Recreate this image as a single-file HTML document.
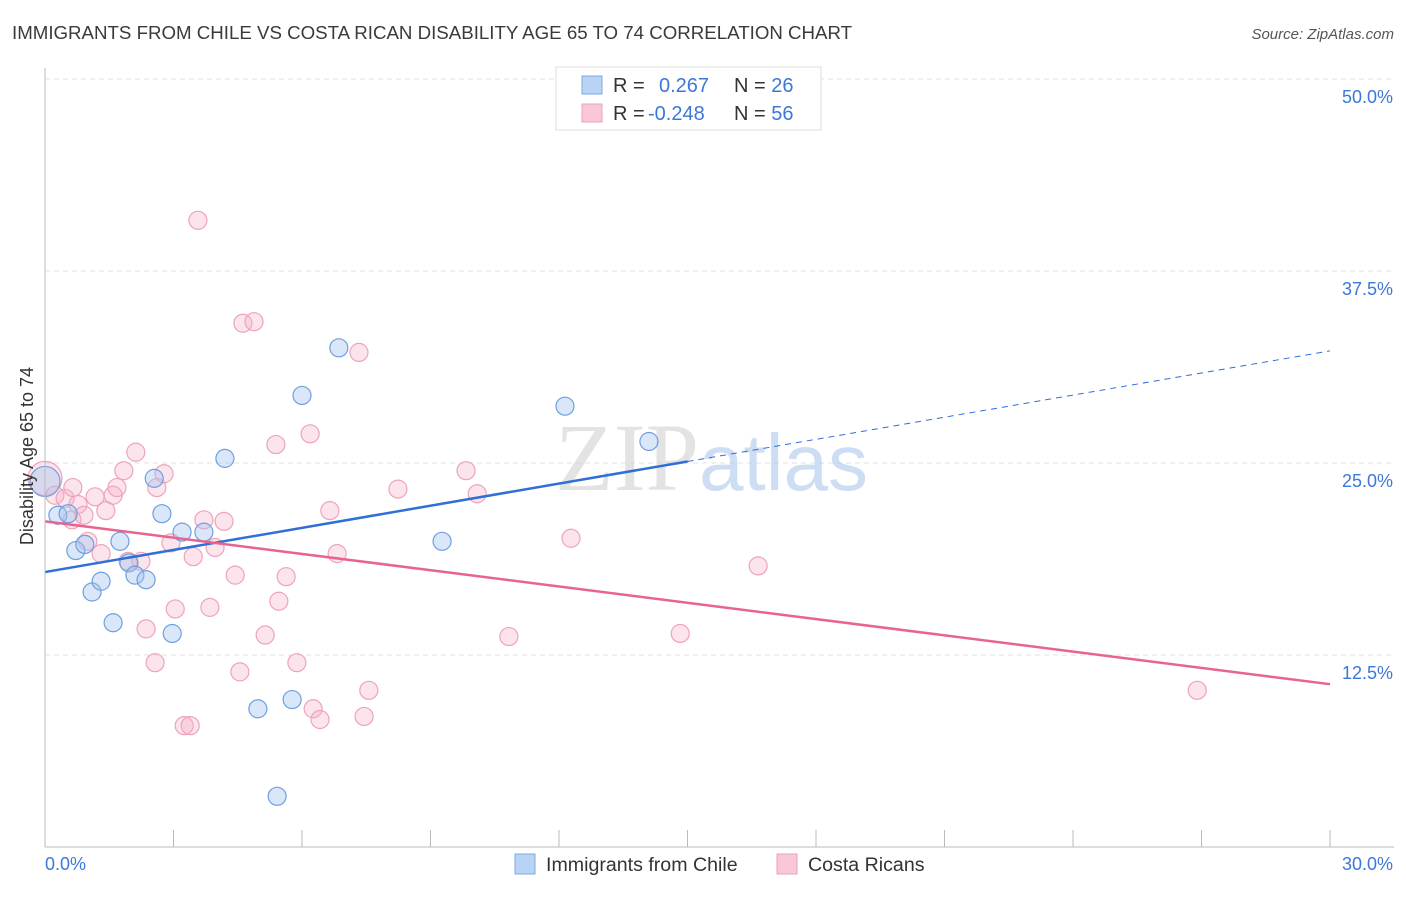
<!DOCTYPE html>
<html><head><meta charset="utf-8"><style>
body{margin:0;background:#fff;font-family:"Liberation Sans",sans-serif}
</style></head><body>
<svg id="chart" width="1406" height="892" xmlns="http://www.w3.org/2000/svg" font-family="Liberation Sans, sans-serif">
<text x="12" y="39" font-size="18.7" fill="#3a3a3a">IMMIGRANTS FROM CHILE VS COSTA RICAN DISABILITY AGE 65 TO 74 CORRELATION CHART</text>
<text x="1394" y="39" font-size="15" fill="#555" text-anchor="end" font-style="italic">Source: ZipAtlas.com</text>
<g id="grid"></g>
<text x="555" y="490" font-size="96" font-family="Liberation Serif, serif" fill="#d8d8d8" opacity="0.7">ZIP<tspan fill="#b8d0ef" font-family="Liberation Sans, sans-serif" font-size="80">atlas</tspan></text>
<g id="points"></g>
<g id="lines"></g>
<line x1="45" y1="847" x2="1394" y2="847" stroke="#bbb"/>
<line x1="45" y1="68" x2="45" y2="847" stroke="#bbb"/>
<text transform="translate(33,456) rotate(-90)" font-size="18" fill="#333" text-anchor="middle">Disability Age 65 to 74</text>
<text x="45" y="870" font-size="18" fill="#3b78d8">0.0%</text>
<text x="1393" y="870" font-size="18" fill="#3b78d8" text-anchor="end">30.0%</text>
<g>
<rect x="556" y="67" width="265" height="63" fill="#fff" stroke="#ddd"/>
<rect x="582" y="76" width="20" height="18" fill="#b9d3f5" stroke="#7fa8e0"/>
<rect x="582" y="104" width="20" height="18" fill="#f9c8d7" stroke="#eda0b9"/>
<text x="613" y="92" font-size="20" fill="#333">R = <tspan fill="#3b78d8" x="659">0.267</tspan><tspan x="734" fill="#333">N = </tspan><tspan fill="#3b78d8">26</tspan></text>
<text x="613" y="120" font-size="20" fill="#333">R = <tspan fill="#3b78d8" x="648">-0.248</tspan><tspan x="734" fill="#333">N = </tspan><tspan fill="#3b78d8">56</tspan></text>
</g>
<g>
<rect x="515" y="854" width="20" height="20" fill="#b9d3f5" stroke="#7fa8e0"/>
<text x="546" y="871" font-size="19.6" fill="#333">Immigrants from Chile</text>
<rect x="777" y="854" width="20" height="20" fill="#f9c8d7" stroke="#eda0b9"/>
<text x="808" y="871" font-size="19.6" fill="#333">Costa Ricans</text>
</g>
</svg>
<script>
const yTicks=[12.5,25,37.5,50];
const yTickLabels=["12.5%","25.0%","37.5%","50.0%"];
const xTicks=[0,3,6,9,12,15,18,21,24,27,30];
const chileX=[0.0,0.30,0.54,0.72,0.93,1.10,1.31,1.59,1.75,1.96,2.10,2.36,2.55,2.73,2.97,3.20,3.71,4.20,4.97,5.42,5.77,6.00,6.86,9.27,12.14,14.10];
const chileY=[23.8,21.6,21.7,19.3,19.7,16.6,17.3,14.6,19.9,18.5,17.7,17.4,24.0,21.7,13.9,20.5,20.5,25.3,9.0,3.3,9.6,29.4,32.5,19.9,28.7,26.4];
const crX=[0.0,0.23,0.47,0.63,0.77,0.91,1.00,1.17,1.31,1.42,1.59,1.68,1.84,1.94,2.12,2.24,2.36,2.57,2.61,2.78,2.94,3.04,3.25,3.39,3.46,3.57,3.71,3.85,3.97,4.18,4.44,4.55,4.62,4.88,5.14,5.39,5.46,5.63,5.88,6.19,6.26,6.42,6.65,6.82,7.33,7.45,7.56,8.24,9.83,10.09,10.83,12.28,14.83,16.65,26.90,0.65];
const crY=[24.0,22.9,22.7,21.3,22.3,21.6,19.9,22.8,19.1,21.9,22.9,23.4,24.5,18.6,25.7,18.6,14.2,12.0,23.4,24.3,19.8,15.5,7.9,7.9,18.9,40.8,21.3,15.6,19.5,21.2,17.7,11.4,34.1,34.2,13.8,26.2,16.0,17.6,12.0,26.9,9.0,8.3,21.9,19.1,32.2,8.5,10.2,23.3,24.5,23.0,13.7,20.1,13.9,18.3,10.2,23.4];
const chileTrend=[17.9,32.3];
const crTrend=[21.2,10.6];
const NS="http://www.w3.org/2000/svg";
const sx=v=>45+v*(1285/30);
const sy=v=>847-v*(768/50);
function mk(tag,attrs,parent){const e=document.createElementNS(NS,tag);for(const k in attrs)e.setAttribute(k,attrs[k]);parent.appendChild(e);return e;}
const grid=document.getElementById('grid');
yTicks.forEach((t,i)=>{
  const l=mk('line',{x1:45,x2:1394,y1:sy(t),y2:sy(t),stroke:'#e2e2e2','stroke-dasharray':'5,4'},grid);
  
  
  const tx=mk('text',{x:1393,y:sy(t)+24,'font-size':18,fill:'#3b78d8','text-anchor':'end'},grid);
  tx.textContent=yTickLabels[i];
  
  
});
xTicks.forEach(t=>{
  const l=mk('line',{x1:sx(t),x2:sx(t),y1:830,y2:847,stroke:'#bbb'},grid);
  
  
});
const pts=document.getElementById('points');
crX.forEach((x,i)=>{
  const c=mk('circle',{cx:sx(x),cy:sy(crY[i]),r:i===0?17:9,fill:'rgba(246,178,200,0.35)',stroke:'#eea3bb','stroke-width':1.2},pts);
  
  
});
chileX.forEach((x,i)=>{
  const c=mk('circle',{cx:sx(x),cy:sy(chileY[i]),r:i===0?15:9,fill:'rgba(160,196,240,0.4)',stroke:'#6f9fe0','stroke-width':1.2},pts);
  
  
});
const lines=document.getElementById('lines');
const bAt=x=>chileTrend[0]+(chileTrend[1]-chileTrend[0])*x/30;
let l1=mk('line',{x1:sx(0),y1:sy(bAt(0)),x2:sx(15),y2:sy(bAt(15)),stroke:'#2f6fd6','stroke-width':2.5},lines);


let l2=mk('line',{x1:sx(15),y1:sy(bAt(15)),x2:sx(30),y2:sy(bAt(30)),stroke:'#2f6fd6','stroke-width':1,'stroke-dasharray':'6,5'},lines);


let l3=mk('line',{x1:sx(0),y1:sy(crTrend[0]),x2:sx(30),y2:sy(crTrend[1]),stroke:'#e8648f','stroke-width':2.5},lines);


</script>
</body></html>
